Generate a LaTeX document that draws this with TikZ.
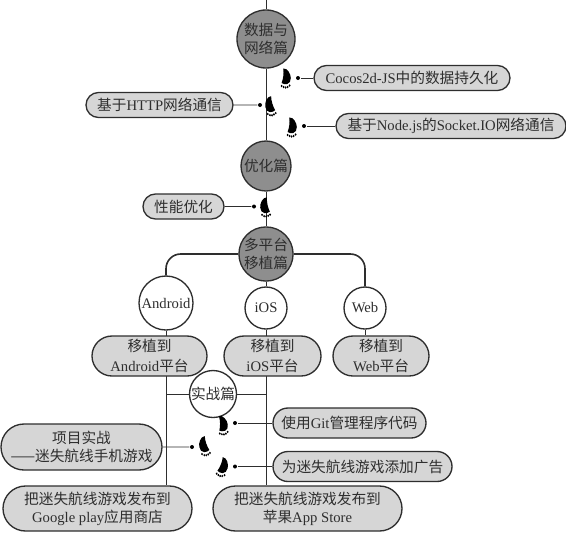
\documentclass[tikz,border=0pt]{standalone}
\usepackage{fontspec}
\setmainfont{Liberation Serif}
\newfontfamily\cjk{Noto Sans CJK SC}
\usetikzlibrary{shapes.misc}
\usetikzlibrary{backgrounds}
\newcommand{\zh}[1]{{\cjk #1}}
\definecolor{boxgray}{HTML}{D6D6D6}
\definecolor{partgray}{HTML}{8E8E8E}
\definecolor{inkgray}{HTML}{2E2E2E}

\begin{document}
\begin{tikzpicture}[x=0.75pt, y=-0.75pt, line width=1pt,
    every node/.style={draw=inkgray, text=inkgray, inner sep=0pt, align=center, font=\fontsize{11}{13.5}\selectfont},
    part/.style={circle, fill=partgray, minimum size=#1*1.5pt},
    platform/.style={circle, fill=white, minimum size=#1*1.5pt},
    topic/.style={rounded rectangle, fill=boxgray, minimum height=25*0.75pt, minimum width=#1*0.75pt},
    tall/.style={rounded rectangle, fill=boxgray, minimum height=#1*0.75pt},
    dot/.style={circle, fill=black, draw=none, minimum size=3pt},
    foot/.pic={
      \fill[black] (-3.5,-9.5) .. controls (2,-10) and (6,-4) .. (6,0) .. controls (6,3) and (4.5,5.5) .. (1.5,6) .. controls (-1,6.5) and (-4,6) .. (-5.5,5) .. controls (-3.5,1) and (-2.5,-5) .. (-3.5,-9.5) -- cycle;
      \foreach \t/\u in {-5.5/8, -3/9, -0.5/9.5, 2/9, 4.5/7.5} {
        \fill[black] (\t,\u) circle (1.25);
      }
    }]

  \useasboundingbox (0,0) rectangle (566,532);

  \coordinate (start) at (266,0);

  % parts on the main line
  \node[part=29] (data) at (266,39) {\zh{数据与}\\\zh{网络篇}};
  \node[part=25] (optimize) at (266,166) {\zh{优化篇}};
  \node[part=27] (multi) at (266,254) {\zh{多平台}\\\zh{移植篇}};
  \node[platform=27] (android) at (166,303) {Android};
  \node[platform=21] (ios) at (266,308) {iOS};
  \node[platform=21] (web) at (365,308) {Web};
  \node[platform=23.5] (combat) at (213,394) {\zh{实战篇}};

  % topics
  \node[topic=196] (cocos) at (412,78) {Cocos2d-JS\zh{中的数据持久化}};
  \node[topic=147] (http) at (159.5,105) {\zh{基于}HTTP\zh{网络通信}};
  \node[topic=230] (socket) at (451,126) {\zh{基于}Node.js\zh{的}Socket.IO\zh{网络通信}};
  \node[topic=81] (perf) at (183.5,206.5) {\zh{性能优化}};
  \node[tall=40, minimum width=86.25pt, font=\fontsize{11}{15}\selectfont] (portandroid) at (149.5,356) {\zh{移植到}\\Android\zh{平台}};
  \node[tall=40, minimum width=72.75pt, font=\fontsize{11}{15}\selectfont] (portios) at (272.5,356) {\zh{移植到}\\iOS\zh{平台}};
  \node[tall=40, minimum width=72pt, font=\fontsize{11}{15}\selectfont] (portweb) at (381,356) {\zh{移植到}\\Web\zh{平台}};
  \node[tall=30, minimum width=114.75pt] (git) at (349.5,423) {\zh{使用}Git\zh{管理程序代码}};
  \node[tall=30, minimum width=134.25pt] (ads) at (362.5,466.5) {\zh{为迷失航线游戏添加广告}};
  \node[tall=46, minimum width=120.75pt] (project) at (81.5,447) {\zh{项目实战}\\\zh{——迷失航线手机游戏}};
  \node[tall=45, minimum width=141.75pt] (google) at (97.5,508.5) {\zh{把迷失航线游戏发布到}\\Google play\zh{应用商店}};
  \node[tall=45, minimum width=141.75pt] (apple) at (307.5,508.5) {\zh{把迷失航线游戏发布到}\\\zh{苹果}App Store};

  % dots next to the footprints
  \node[dot] (dcocos) at (298,78) {};
  \node[dot] (dhttp) at (260,105) {};
  \node[dot] (dsocket) at (304,126) {};
  \node[dot] (dperf) at (254,206.5) {};
  \node[dot] (dgit) at (235,423) {};
  \node[dot] (dproject) at (192,447) {};
  \node[dot] (dads) at (235,466.5) {};

  \foreach \x/\y/\r/\s in {286/78/0/0.8, 270/106/10/-0.8, 292/127/0/0.8, 265/207/5/-0.8, 223/425/8/0.8, 204/446/12/-0.8, 223/467/-15/0.8} {
    \pic[rotate=\r, xscale=\s] at (\x,\y) {foot};
  }

  \begin{scope}[on background layer]
    \draw[inkgray] (start) -- (data);
    \draw[inkgray] (data) -- (optimize);
    \draw[inkgray] (optimize) -- (multi);
    \draw[inkgray] (multi) -- (ios);
    \draw[inkgray, line width=1.2pt, rounded corners=11pt] (multi) -| (android);
    \draw[inkgray, line width=1.2pt, rounded corners=11pt] (multi) -| (web);
    \draw[inkgray] (android) -- (android |- google.north);
    \draw[inkgray] (ios) -- (ios |- apple.north);
    \draw[inkgray] (web) -- (web |- portweb.north);
    \draw[inkgray] (combat -| android) -- (combat -| ios);
    \draw[inkgray] (cocos) -- (dcocos);
    \draw[inkgray] (http) -- (dhttp);
    \draw[inkgray] (socket) -- (dsocket);
    \draw[inkgray] (perf) -- (dperf);
    \draw[inkgray] (git) -- (dgit);
    \draw[inkgray] (ads) -- (dads);
    \draw[inkgray] (project) -- (dproject);
  \end{scope}

\end{tikzpicture}
\end{document}
